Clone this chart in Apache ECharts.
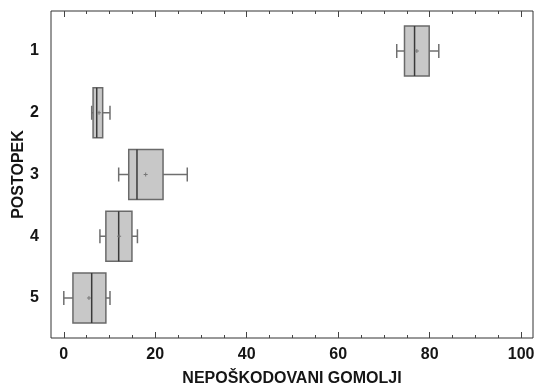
<!DOCTYPE html>
<html><head><meta charset="utf-8">
<script src="https://cdn.jsdelivr.net/npm/echarts@6/dist/echarts.min.js"></script>
<style>html,body{margin:0;padding:0;background:#fff}#c{width:536px;height:386px}</style>
</head><body><div id="c"></div>
<script>
// Categories (postopek) and box statistics
var categories = [1, 2, 3, 4, 5];
var whiskerLow  = [72.8, 6.1, 12.0, 7.9, 0.0];
var q1          = [74.5, 6.4, 14.2, 9.2, 2.0];
var medians     = [76.7, 7.2, 16.0, 12.0, 6.1];
var q3          = [79.9, 8.5, 21.7, 14.9, 9.2];
var whiskerHigh = [82.0, 10.1, 27.0, 16.1, 10.1];
var means       = [77.2, 7.7, 17.9, 12.1, 5.5];
var majorTicks = [0, 20, 40, 60, 80, 100];
var minorTicks = [0,5,10,15,20,25,30,35,40,45,50,55,60,65,70,75,80,85,90,95,100];

var data = categories.map(function (c, i) {
  return [c, whiskerLow[i], q1[i], medians[i], q3[i], whiskerHigh[i], means[i]];
});

var FONT = 'Liberation Sans';
var TXT = '#151515';
var chart = echarts.init(document.getElementById('c'), null, {renderer: 'canvas'});

function xAxisDef(pos, vals, len, labels) {
  return {
    type: 'value', position: pos, min: -2.8, max: 102.6,
    splitLine: {show: false},
    axisLine: {show: false},
    axisTick: {show: true, inside: true, length: len, customValues: vals,
               lineStyle: {color: '#444', width: 1}},
    axisLabel: labels ? {show: true, customValues: majorTicks, margin: 9,
               fontFamily: FONT, fontWeight: 'bold', fontSize: 16, color: TXT} : {show: false}
  };
}

var xAxes = [
  xAxisDef('bottom', majorTicks, 6, true),
  xAxisDef('bottom', minorTicks, 3, false),
  xAxisDef('top', majorTicks, 6, false),
  xAxisDef('top', minorTicks, 3, false)
];
xAxes[0].name = 'NEPOŠKODOVANI GOMOLJI';
xAxes[0].nameLocation = 'middle';
xAxes[0].nameGap = 33;
xAxes[0].nameMoveOverlap = false;
xAxes[0].nameTextStyle = {fontFamily: FONT, fontWeight: 'bold', fontSize: 16, color: TXT};

var option = {
  animation: false,
  grid: {left: 51, right: 3, top: 11, bottom: 48, show: true, containLabel: false,
         outerBoundsMode: 'none',
         borderColor: '#333', borderWidth: 1, backgroundColor: 'transparent'},
  xAxis: xAxes,
  yAxis: {
    type: 'value', inverse: true, min: 0.352, max: 5.648,
    splitLine: {show: false}, axisLine: {show: false}, axisTick: {show: false},
    axisLabel: {customValues: categories, margin: 12, fontFamily: FONT,
                fontWeight: 'bold', fontSize: 16, color: TXT},
    name: 'POSTOPEK', nameLocation: 'middle', nameGap: 24, nameMoveOverlap: false,
    nameTextStyle: {fontFamily: FONT, fontWeight: 'bold', fontSize: 16, color: TXT}
  },
  series: [{
    type: 'custom',
    xAxisIndex: 0,
    data: data,
    encode: {x: [1, 2, 3, 4, 5], y: 0},
    renderItem: function (params, api) {
      var cat = api.value(0);
      var pLo = api.coord([api.value(1), cat]);
      var pQ1 = api.coord([api.value(2), cat]);
      var pMed = api.coord([api.value(3), cat]);
      var pQ3 = api.coord([api.value(4), cat]);
      var pHi = api.coord([api.value(5), cat]);
      var pMean = api.coord([api.value(6), cat]);
      var halfH = Math.abs(api.coord([0, cat + 0.405])[1] - pMed[1]);
      var capH = 7;
      var y = pMed[1];
      var gray = '#6f6f6f';
      return {
        type: 'group',
        children: [
          {type: 'line', shape: {x1: pLo[0], y1: y, x2: pQ1[0], y2: y}, style: {stroke: gray, lineWidth: 1.5}},
          {type: 'line', shape: {x1: pQ3[0], y1: y, x2: pHi[0], y2: y}, style: {stroke: gray, lineWidth: 1.5}},
          {type: 'line', shape: {x1: pLo[0], y1: y - capH, x2: pLo[0], y2: y + capH}, style: {stroke: gray, lineWidth: 1.5}},
          {type: 'line', shape: {x1: pHi[0], y1: y - capH, x2: pHi[0], y2: y + capH}, style: {stroke: gray, lineWidth: 1.5}},
          {type: 'rect', shape: {x: pQ1[0], y: y - halfH, width: pQ3[0] - pQ1[0], height: 2 * halfH},
           style: {fill: '#c8c8c8', stroke: '#6a6a6a', lineWidth: 1.5}},
          {type: 'line', shape: {x1: pMed[0], y1: y - halfH, x2: pMed[0], y2: y + halfH}, style: {stroke: '#3a3a3a', lineWidth: 1.5}},
          {type: 'line', shape: {x1: pMean[0] - 2, y1: y, x2: pMean[0] + 2, y2: y}, style: {stroke: '#777', lineWidth: 1}},
          {type: 'line', shape: {x1: pMean[0], y1: y - 2, x2: pMean[0], y2: y + 2}, style: {stroke: '#777', lineWidth: 1}}
        ]
      };
    }
  }]
};
chart.setOption(option);
</script></body></html>
